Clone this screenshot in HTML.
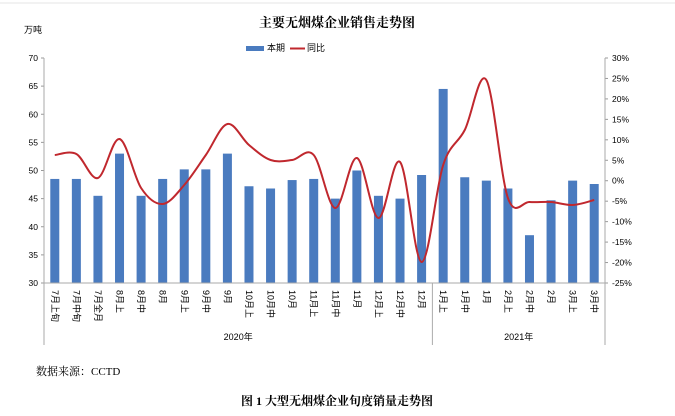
<!DOCTYPE html>
<html><head><meta charset="utf-8"><style>
body{margin:0;background:#fff;width:675px;height:411px;overflow:hidden;font-family:"Liberation Sans","Noto Sans CJK SC",sans-serif}
</style></head><body>
<svg id="s" width="675" height="411" xmlns="http://www.w3.org/2000/svg" font-family="Liberation Sans, Noto Sans CJK SC, sans-serif">
<line x1="0" y1="3" x2="675" y2="3" stroke="#e4e4e4"/>
<text x="337" y="27" text-anchor="middle" font-size="13" font-weight="bold" font-family="Liberation Serif, Noto Serif CJK SC, serif">主要无烟煤企业销售走势图</text>
<text x="24" y="33" font-size="9">万吨</text>
<rect x="246" y="46" width="18" height="5" fill="#4a7bbf"/><text x="267" y="51" font-size="9">本期</text>
<line x1="290" y1="48.5" x2="305" y2="48.5" stroke="#c0282e" stroke-width="2"/><text x="307" y="51" font-size="9">同比</text>
<g id="g"></g>
<text x="36" y="375" font-size="11" font-family="Liberation Serif, Noto Serif CJK SC, serif">数据来源：CCTD</text>
<text x="337" y="405" text-anchor="middle" font-size="12" font-weight="bold" font-family="Liberation Serif, Noto Serif CJK SC, serif">图 1  大型无烟煤企业旬度销量走势图</text>
</svg>
<script>
var g=document.getElementById('g'),h='';
var L=44,R=605,T=58,B=283,n=26,w=(R-L)/n;
var cats=['7月上旬','7月中旬','7月全月','8月上','8月中','8月','9月上','9月中','9月','10月上','10月中','10月','11月上','11月中','11月','12月上','12月中','12月','1月上','1月中','1月','2月上','2月中','2月','3月上','3月中'];
var v=[48.5,48.5,45.5,53,45.5,48.5,50.2,50.2,53,47.2,46.8,48.3,48.5,45,50,45.5,45,49.2,64.5,48.8,48.2,46.8,38.5,44.7,48.2,47.6];
var ly=[155,154,178,139,188,204,185,155,124,145,160,160,155,208,158,218,162,262,165,130,80,198,202,202,205,200];
function y(val){return B-(val-30)*(B-T)/40}
for(var i=0;i<n;i++){var cx=L+w*(i+.5);h+='<rect x="'+(cx-4.5)+'" y="'+y(v[i])+'" width="9" height="'+(B-y(v[i]))+'" fill="#4a7bbf"/>';
h+='<text font-size="9" transform="translate('+(cx-3)+','+(B+7)+') rotate(90)">'+cats[i]+'</text>';}
for(var k=0;k<=8;k++){var yy=B-k*(B-T)/8;h+='<text x="38" y="'+(yy+3)+'" font-size="8.5" text-anchor="end">'+(30+k*5)+'</text><line x1="41" x2="44" y1="'+yy+'" y2="'+yy+'" stroke="#999"/>';}
for(var k=0;k<=11;k++){var yy=B-k*(B-T)/11;h+='<text x="612" y="'+(yy+3)+'" font-size="8.5">'+(-25+k*5)+'%</text><line x1="605" x2="608" y1="'+yy+'" y2="'+yy+'" stroke="#999"/>';}
h+='<line x1="44" y1="'+T+'" x2="44" y2="345" stroke="#aaa"/><line x1="605" y1="'+T+'" x2="605" y2="345" stroke="#aaa"/><line x1="44" y1="'+B+'" x2="605" y2="'+B+'" stroke="#aaa"/><line x1="'+(L+18*w)+'" y1="'+B+'" x2="'+(L+18*w)+'" y2="345" stroke="#aaa"/>';
h+='<text x="'+(L+9*w)+'" y="340" font-size="9" text-anchor="middle">2020年</text><text x="'+(L+22*w)+'" y="340" font-size="9" text-anchor="middle">2021年</text>';
var p=[];for(var i=0;i<n;i++)p.push([L+w*(i+.5),ly[i]]);
var d='M'+p[0];for(var i=0;i<n-1;i++){var p0=p[i?i-1:0],p1=p[i],p2=p[i+1],p3=p[i+2<n?i+2:n-1];
d+='C'+(p1[0]+(p2[0]-p0[0])/6)+','+(p1[1]+(p2[1]-p0[1])/6)+' '+(p2[0]-(p3[0]-p1[0])/6)+','+(p2[1]-(p3[1]-p1[1])/6)+' '+p2;}
h+='<path d="'+d+'" fill="none" stroke="#c0282e" stroke-width="2"/>';
g.innerHTML=h;
</script>
</body></html>
